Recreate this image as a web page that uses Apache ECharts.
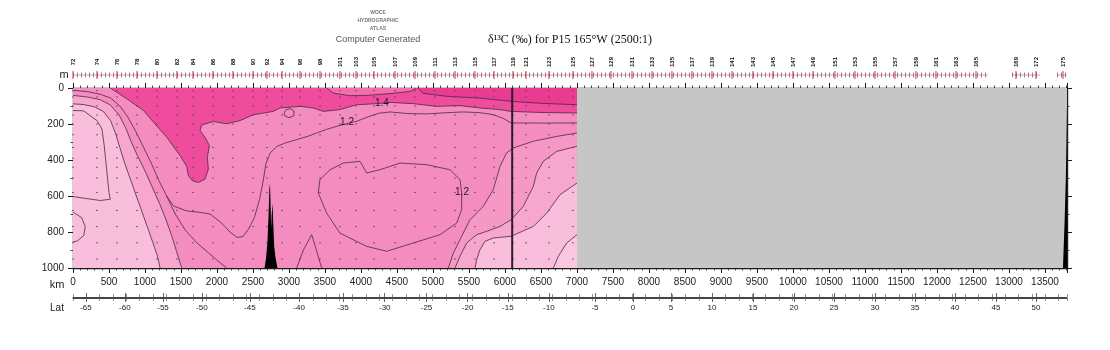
<!DOCTYPE html>
<html>
<head>
<meta charset="utf-8">
<title>δ13C section P15 165°W</title>
<script src="https://cdn.jsdelivr.net/npm/echarts@6.0.0/dist/echarts.min.js"></script>
<style>
  html, body { margin: 0; padding: 0; background: #fff; }
  #chart { width: 1110px; height: 350px; }
</style>
</head>
<body>
<div id="chart"></div>
<script>
// ---------- section extent ----------
const KM_MAX = 13806;        // length of the track drawn (km)
const DATA_END_KM = 7000;    // no δ13C samples north of this distance
const DEPTH_MAX = 1000;      // m
const LEG_BREAK_KM = 6100;   // leg boundary

// ---------- stations ----------
const stationKm = [0, 333, 611, 889, 1167, 1444, 1667, 1944, 2222, 2500, 2694, 2903, 3153, 3431, 3708, 3931,
  4181, 4472, 4750, 5028, 5306, 5583, 5847, 6111, 6292, 6611, 6944, 7208, 7472, 7764, 8042, 8319, 8597, 8875,
  9153, 9444, 9722, 10000, 10278, 10583, 10861, 11139, 11417, 11708, 11986, 12264, 12542, 13097, 13375, 13750];
const stationNo = [72, 74, 76, 78, 80, 82, 84, 86, 88, 90, 92, 94, 96, 98, 101, 103, 105, 107, 109, 111, 113,
  115, 117, 119, 121, 123, 125, 127, 129, 131, 133, 135, 137, 139, 141, 143, 145, 147, 149, 151, 153, 155, 157,
  159, 161, 163, 165, 169, 172, 175];
const castRuns = [[0, 12708], [13042, 13431], [13667, KM_MAX]];
const sampleDepth = [15, 50, 100, 150, 200, 260, 330, 390, 440, 500, 580, 680, 770, 860, 950];

// ---------- latitude scale along the track ----------
const latKm = [180, 720, 1250, 1790, 2457, 3140, 3750, 4330, 4910, 5480, 6040, 6610, 7250, 7778, 8306, 8875,
  9444, 10014, 10569, 11139, 11694, 12250, 12819, 13375];
const latText = ['-65', '-60', '-55', '-50', '-45', '-40', '-35', '-30', '-25', '-20', '-15', '-10', '-5', '0',
  '5', '10', '15', '20', '25', '30', '35', '40', '45', '50'];

// ---------- contours [km, depth m] ----------
const frontOuter = [[0, 88], [150, 92], [300, 105], [420, 130], [520, 180], [590, 250], [650, 330], [720, 420],
  [800, 510], [880, 600], [960, 690], [1040, 780], [1110, 860], [1170, 930], [1210, 1000]];
const frontInner = [[0, 41], [200, 50], [380, 65], [520, 95], [640, 150], [730, 220], [810, 300], [900, 380],
  [1000, 460], [1100, 550], [1200, 640], [1290, 730], [1370, 820], [1440, 910], [1510, 1000]];
const frontDeep = [[1300, 600], [1420, 700], [1560, 790], [1720, 860], [1880, 915], [2010, 960], [2134, 1000]];
const iso12 = [[0, 13], [200, 20], [380, 35], [520, 55], [650, 100], [760, 160], [870, 240], [980, 330],
  [1090, 420], [1200, 520], [1300, 600], [1395, 655], [1580, 683], [1750, 690], [1903, 700], [2050, 745],
  [2180, 800], [2280, 830], [2360, 825], [2435, 786], [2520, 720], [2590, 620], [2640, 520], [2680, 420],
  [2740, 360], [2830, 325], [2950, 305], [3106, 287], [3250, 270], [3384, 250], [3520, 230], [3662, 213],
  [3800, 198], [3940, 185], [4100, 160], [4250, 140], [4403, 133], [4650, 142], [4912, 144], [5150, 138],
  [5421, 133], [5650, 137], [5838, 148], [5980, 170], [6084, 194], [6500, 195], [7000, 194]];
const hotEdge = [[517, 0], [748, 60], [979, 125], [1118, 190], [1303, 274], [1488, 376], [1580, 436],
  [1603, 488], [1663, 516], [1742, 525], [1834, 506], [1880, 451], [1866, 385], [1894, 320], [1834, 274],
  [1765, 236], [1788, 205], [1950, 186], [2134, 199], [2319, 181], [2504, 149], [2781, 130], [2875, 111],
  [3153, 102], [3338, 111], [3477, 130], [3708, 120], [3940, 93], [4218, 87], [4403, 80], [4727, 87],
  [5051, 102], [5375, 98], [5653, 111], [5931, 120], [6084, 130], [6500, 136], [7000, 139]];
const heart12 = [[3430, 509], [3570, 454], [3755, 417], [3986, 407], [4079, 472], [4264, 454], [4542, 417],
  [4912, 426], [5236, 454], [5375, 509], [5398, 583], [5398, 676], [5329, 750], [5097, 815], [4727, 861],
  [4357, 907], [4079, 880], [3708, 806], [3523, 695], [3407, 583], [3430, 509]];
const eddy = [[2930, 140], [2960, 120], [3020, 115], [3070, 128], [3065, 155], [3000, 165], [2945, 156], [2930, 140]];
const southPatch = [[0, 125], [148, 127], [333, 181], [402, 228], [434, 321], [462, 432], [481, 507], [500, 581],
  [517, 618], [379, 625], [200, 615], [0, 603]];
const southBulge = [[0, 690], [120, 720], [170, 770], [150, 820], [60, 850], [0, 855]];
const ridgeArch = [[3106, 1000], [3200, 900], [3315, 815], [3380, 900], [3454, 1000]];
const brOuter = [[7000, 250], [6718, 269], [6394, 296], [6116, 333], [6023, 361], [5931, 435], [5838, 565],
  [5699, 657], [5514, 732], [5398, 824], [5283, 917], [5213, 1000]];
const brMid = [[7000, 324], [6718, 352], [6533, 407], [6440, 472], [6394, 546], [6255, 657], [6084, 732],
  [5931, 769], [5746, 796], [5607, 815], [5468, 861], [5375, 935], [5306, 1000]];
const brInner = [[7000, 528], [6764, 593], [6579, 695], [6394, 769], [6084, 824], [5838, 833], [5722, 852],
  [5653, 898], [5607, 954], [5584, 1000]];
const brCore = [[7000, 815], [6857, 861], [6741, 935], [6672, 1000]];
const topBlob = [[3523, 0], [3616, 28], [3847, 43], [4079, 41], [4403, 31], [4681, 19], [4773, 0]];
const topRight = [[4790, 0], [4866, 30], [5190, 46], [5653, 56], [6084, 74], [6500, 85], [7000, 93]];

const contourLabels = [
  { text: '1.4', at: [4290, 83] },
  { text: '1.2', at: [3806, 190] },
  { text: '1.2', at: [5403, 578] }
];

// ---------- topography ----------
const ridge = [[2660, 1000], [2680, 950], [2700, 860], [2715, 720], [2728, 560], [2736, 530], [2744, 640],
  [2752, 780], [2760, 700], [2772, 640], [2782, 760], [2795, 880], [2812, 940], [2840, 1000]];
const northWall = [[13806, 90], [13800, 250], [13790, 500], [13772, 750], [13750, 1000], [13806, 1000]];

// ---------- colours ----------
const COL = {
  lightest: '#F9BEDB', light: '#F7A7CE', mainLight: '#F698C6', main: '#F58CC0', med: '#F36DAF',
  hot: '#EF4C9E', dark: '#EA3B93', core: '#FAC8E1', line: '#4a2a3a', nodata: '#C6C6C6'
};

// filled bands, painted from the broad background upwards
const fills = [
  { color: COL.main, pts: [[0, 0], [DATA_END_KM, 0], [DATA_END_KM, DEPTH_MAX], [0, DEPTH_MAX]] },
  { color: COL.light, pts: [[0, DEPTH_MAX]].concat(frontInner) },
  { color: COL.lightest, pts: [[0, DEPTH_MAX]].concat(frontOuter) },
  { color: COL.mainLight, pts: brOuter.concat([[DATA_END_KM, DEPTH_MAX]]) },
  { color: COL.light, pts: brMid.concat([[DATA_END_KM, DEPTH_MAX]]) },
  { color: COL.lightest, pts: brInner.concat([[DATA_END_KM, DEPTH_MAX]]) },
  { color: COL.core, pts: brCore.concat([[DATA_END_KM, DEPTH_MAX]]) },
  { color: COL.hot, pts: hotEdge.concat([[DATA_END_KM, 0]]) },
  { color: COL.med, pts: topBlob },
  { color: COL.dark, pts: topRight.concat([[DATA_END_KM, 0]]) }
];
const lines = [frontOuter, frontInner, frontDeep, iso12, hotEdge, heart12, eddy, southPatch, southBulge,
  ridgeArch, brOuter, brMid, brInner, brCore, topBlob, topRight];

const samples = [];
stationKm.forEach(k => {
  if (k < DATA_END_KM) sampleDepth.forEach(d => samples.push([k, d]));
});

const FONT = 'Liberation Sans, Arial, sans-serif';
const axisCol = '#1a1a1a';

function frameAxisX(position, showLabel) {
  return {
    type: 'value', gridIndex: 0, position: position, min: 0, max: KM_MAX, interval: 500,
    axisLine: { show: true, onZero: false, lineStyle: { color: axisCol, width: 1.4 } },
    axisTick: { show: true, length: 5, lineStyle: { color: axisCol, width: 1 } },
    minorTick: { show: true, splitNumber: 5, length: 2.5, lineStyle: { color: axisCol, width: 0.8 } },
    axisLabel: {
      show: showLabel, fontSize: 10, color: '#222', margin: 9, fontFamily: FONT,
      formatter: v => (v % 500 === 0 ? String(v) : '')
    },
    splitLine: { show: false }, minorSplitLine: { show: false }
  };
}
function frameAxisY(position, showLabel) {
  return {
    type: 'value', gridIndex: 0, position: position, inverse: true, min: 0, max: DEPTH_MAX, interval: 200,
    axisLine: { show: true, onZero: false, lineStyle: { color: axisCol, width: 1.4 } },
    axisTick: { show: true, length: 5, lineStyle: { color: axisCol, width: 1 } },
    minorTick: { show: true, splitNumber: 2, length: 2.5, lineStyle: { color: axisCol, width: 0.8 } },
    axisLabel: { show: showLabel, fontSize: 10, color: '#222', margin: 9, fontFamily: FONT, formatter: v => String(v) },
    splitLine: { show: false }, minorSplitLine: { show: false }
  };
}
function latAxis(position, showLabel) {
  return {
    type: 'value', gridIndex: 2, position: position, min: 0, max: KM_MAX,
    axisLine: { show: true, onZero: false, lineStyle: { color: '#444', width: 1 } },
    axisTick: { show: true, customValues: latKm, length: 4, lineStyle: { color: '#444', width: 0.8 } },
    axisLabel: {
      show: showLabel, customValues: latKm, fontSize: 8, color: '#222', margin: 6, fontFamily: FONT,
      formatter: v => latText[latKm.indexOf(v)] || ''
    },
    splitLine: { show: false }
  };
}
// fine graduation along the latitude line
function latFineAxis(position) {
  return {
    type: 'value', gridIndex: 2, position: position, min: 0, max: KM_MAX, interval: 185,
    axisLine: { show: false },
    axisTick: { show: true, length: 3, lineStyle: { color: '#666', width: 0.7 } },
    axisLabel: { show: false },
    splitLine: { show: false }
  };
}
const centred = { align: 'center', verticalAlign: 'middle', textAlign: 'center', textVerticalAlign: 'middle' };

const option = {
  animation: false,
  backgroundColor: '#ffffff',
  grid: [
    { left: 73, right: 43, top: 88, height: 180 },
    { left: 73, right: 43, top: 70, height: 10 },
    { left: 73, right: 43, top: 297, height: 1 }
  ],
  xAxis: [
    frameAxisX('bottom', true),
    frameAxisX('top', false),
    { type: 'value', gridIndex: 1, min: 0, max: KM_MAX, show: false },
    latAxis('bottom', true),
    latAxis('top', false),
    latFineAxis('bottom'),
    latFineAxis('top')
  ],
  yAxis: [
    frameAxisY('left', true),
    frameAxisY('right', false),
    { type: 'value', gridIndex: 1, min: 0, max: 1, show: false },
    { type: 'value', gridIndex: 2, min: 0, max: 1, show: false }
  ],
  graphic: [
    { type: 'text', x: 378, y: 13, style: Object.assign({ text: 'WOCE', font: 'bold 5px ' + FONT, fill: '#777' }, centred) },
    { type: 'text', x: 378, y: 21, style: Object.assign({ text: 'HYDROGRAPHIC', font: 'bold 5px ' + FONT, fill: '#777' }, centred) },
    { type: 'text', x: 378, y: 29, style: Object.assign({ text: 'ATLAS', font: 'bold 5px ' + FONT, fill: '#777' }, centred) },
    { type: 'text', x: 378, y: 40, style: Object.assign({ text: 'Computer Generated', font: '9px ' + FONT, fill: '#555' }, centred) },
    { type: 'text', x: 570, y: 40, style: Object.assign({ text: 'δ¹³C (‰) for P15 165°W (2500:1)', font: '12px Liberation Serif, serif', fill: '#111' }, centred) },
    { type: 'text', x: 64, y: 75, style: Object.assign({ text: 'm', font: '11px ' + FONT, fill: '#222' }, centred) },
    { type: 'text', x: 57, y: 285, style: Object.assign({ text: 'km', font: '11px ' + FONT, fill: '#222' }, centred) },
    { type: 'text', x: 57, y: 308, style: Object.assign({ text: 'Lat', font: '10px ' + FONT, fill: '#222' }, centred) }
  ],
  series: [
    {
      // colour bands
      type: 'custom', xAxisIndex: 0, yAxisIndex: 0, clip: true, silent: true, z: 1,
      data: fills.map(f => f.pts[0]),
      renderItem: (params, api) => {
        const f = fills[params.dataIndex];
        return { type: 'polygon', shape: { points: f.pts.map(p => api.coord(p)) }, style: { fill: f.color } };
      }
    },
    {
      // stretch without δ13C data
      type: 'custom', xAxisIndex: 0, yAxisIndex: 0, clip: true, silent: true, z: 2,
      data: [[DATA_END_KM, 0]],
      renderItem: (params, api) => {
        const a = api.coord([DATA_END_KM, 0]), b = api.coord([KM_MAX, DEPTH_MAX]);
        return { type: 'rect', shape: { x: a[0], y: a[1], width: b[0] - a[0], height: b[1] - a[1] }, style: { fill: COL.nodata } };
      }
    },
    {
      // contour lines
      type: 'custom', xAxisIndex: 0, yAxisIndex: 0, clip: true, silent: true, z: 3,
      data: lines.map(l => l[0]),
      renderItem: (params, api) => ({
        type: 'polyline',
        shape: { points: lines[params.dataIndex].map(p => api.coord(p)) },
        style: { stroke: COL.line, lineWidth: 0.8, fill: null }
      })
    },
    {
      // sample positions
      type: 'scatter', xAxisIndex: 0, yAxisIndex: 0, silent: true, z: 4,
      symbol: 'rect', symbolSize: [2, 1], itemStyle: { color: '#5a4550' },
      data: samples
    },
    {
      // bottom topography
      type: 'custom', xAxisIndex: 0, yAxisIndex: 0, clip: true, silent: true, z: 5,
      data: [ridge[0], northWall[0]],
      renderItem: (params, api) => {
        const shape = params.dataIndex === 0 ? ridge : northWall;
        return { type: 'polygon', shape: { points: shape.map(p => api.coord(p)) }, style: { fill: '#000' } };
      }
    },
    {
      // leg boundary
      type: 'line', xAxisIndex: 0, yAxisIndex: 0, silent: true, z: 6, symbol: 'none',
      lineStyle: { color: '#2e1d26', width: 2 },
      data: [[LEG_BREAK_KM, 0], [LEG_BREAK_KM, DEPTH_MAX]]
    },
    {
      // contour values
      type: 'custom', xAxisIndex: 0, yAxisIndex: 0, clip: true, silent: true, z: 7,
      data: contourLabels.map(c => c.at),
      renderItem: (params, api) => {
        const c = contourLabels[params.dataIndex];
        const p = api.coord(c.at);
        return { type: 'text', x: p[0], y: p[1], style: { text: c.text, font: '10px ' + FONT, fill: '#1a1a1a', align: 'center', verticalAlign: 'middle' } };
      }
    },
    {
      // cast rows
      type: 'custom', xAxisIndex: 2, yAxisIndex: 2, silent: true, z: 3,
      data: castRuns.map(r => [r[0], 0.5]),
      renderItem: (params, api) => {
        const r = castRuns[params.dataIndex];
        const a = api.coord([r[0], 0.5]), b = api.coord([r[1], 0.5]);
        return {
          type: 'group', children: [
            { type: 'line', shape: { x1: a[0], y1: a[1], x2: b[0], y2: b[1] }, style: { stroke: '#9a8a8e', lineWidth: 0.7 } },
            { type: 'line', shape: { x1: a[0], y1: a[1], x2: b[0], y2: b[1] }, style: { stroke: '#b8727f', lineWidth: 5, lineDash: [1, 3] } }
          ]
        };
      }
    },
    {
      // station markers and numbers
      type: 'custom', xAxisIndex: 2, yAxisIndex: 2, silent: true, z: 4,
      data: stationKm.map(k => [k, 0.5]),
      renderItem: (params, api) => {
        const i = params.dataIndex;
        const p = api.coord([stationKm[i], 0.5]);
        return {
          type: 'group', children: [
            { type: 'line', shape: { x1: p[0], y1: p[1] - 4, x2: p[0], y2: p[1] + 4 }, style: { stroke: '#c0394f', lineWidth: 1 } },
            { type: 'text', x: p[0], y: p[1] - 13, rotation: Math.PI / 2,
              style: { text: String(stationNo[i]), font: 'bold 6px ' + FONT, fill: '#111', align: 'center', verticalAlign: 'middle' } }
          ]
        };
      }
    }
  ]
};

const chart = echarts.init(document.getElementById('chart'), null, { renderer: 'canvas' });
chart.setOption(option);
</script>
</body>
</html>
